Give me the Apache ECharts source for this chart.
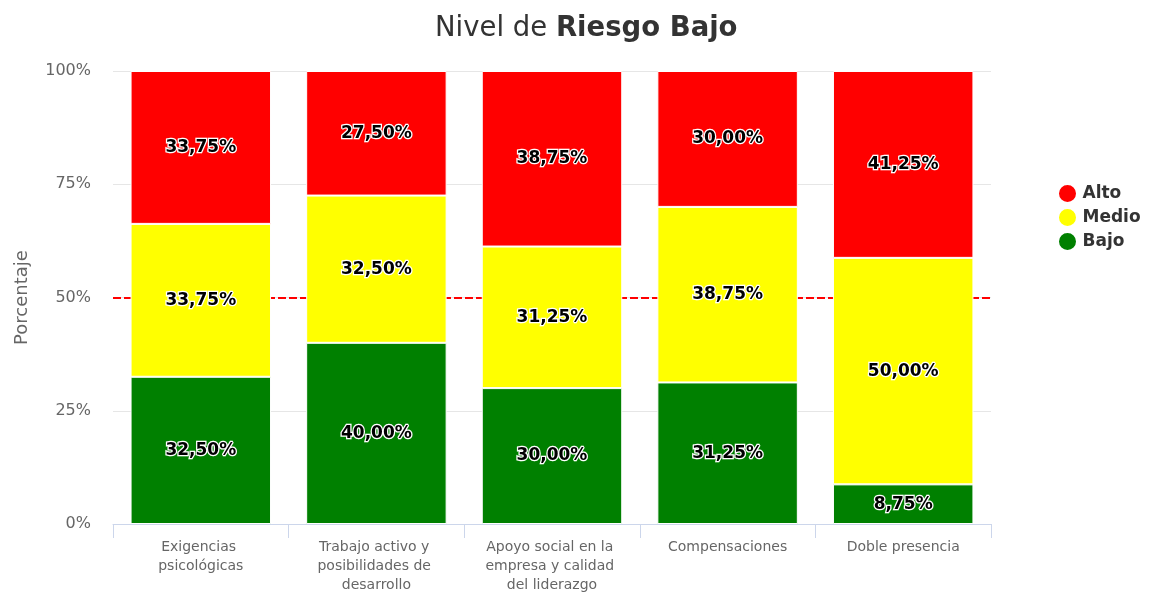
<!DOCTYPE html>
<html lang="es">
<head>
    <meta charset="UTF-8">
    <title>Nivel de Riesgo Bajo</title>
    <script src="https://cdn.jsdelivr.net/npm/echarts@6/dist/echarts.min.js"></script>
    <style>
        html, body { margin: 0; padding: 0; background: #fff; }
        #chart { width: 1151px; height: 592px; }
    </style>
</head>
<body>
    <div id="chart"></div>
    <script>
        // datos
        const categorias = ['Exigencias psicológicas', 'Trabajo activo y posibilidades de desarrollo',
            'Apoyo social en la empresa y calidad del liderazgo', 'Compensaciones', 'Doble presencia'];
        const bajo = [32.5, 40, 30, 31.25, 8.75];
        const medio = [33.75, 32.5, 31.25, 38.75, 50];
        const alto = [33.75, 27.5, 38.75, 30, 41.25];
        const umbral = 50;

        const fuente = 'DejaVu Sans, sans-serif';

        function etiqueta(p) {
            return p.value.toFixed(2).replace('.', ',') + '%';
        }

        function serieBarra(nombre, datos, color) {
            return {
                name: nombre,
                type: 'bar',
                stack: 'total',
                data: datos,
                barCategoryGap: '20%',
                z: 3,
                itemStyle: { color: color, borderColor: '#fff', borderWidth: 1 },
                label: {
                    show: true,
                    formatter: etiqueta,
                    fontFamily: fuente,
                    fontSize: 17,
                    fontWeight: 'bold',
                    color: '#000',
                    textBorderColor: '#fff',
                    textBorderWidth: 2.5,
                    padding: [4, 0, 0, 0]
                }
            };
        }

        const chart = echarts.init(document.getElementById('chart'));
        chart.setOption({
            animation: false,
            textStyle: { fontFamily: fuente },
            title: {
                text: '{n|Nivel de }{b|Riesgo Bajo}',
                left: 430,
                top: 10,
                textStyle: {
                    fontWeight: 'normal',
                    rich: {
                        n: { fontFamily: fuente, fontSize: 27.5, fontWeight: 'normal', color: '#333' },
                        b: { fontFamily: fuente, fontSize: 27.5, fontWeight: 'bold', color: '#333' }
                    }
                }
            },
            legend: {
                orient: 'vertical',
                left: 1052,
                top: 178,
                icon: 'circle',
                itemWidth: 20,
                itemHeight: 19,
                itemGap: 3,
                data: ['Alto', 'Medio', 'Bajo'],
                textStyle: { fontFamily: fuente, fontSize: 17, fontWeight: 'bold', color: '#333' }
            },
            grid: { left: 113, right: 160, top: 71, bottom: 68, outerBoundsMode: 'none' },
            xAxis: {
                type: 'category',
                data: categorias,
                axisLine: { lineStyle: { color: '#ccd6eb', width: 1 } },
                axisTick: { show: true, length: 14, lineStyle: { color: '#ccd6eb' } },
                axisLabel: {
                    interval: 0,
                    color: '#666',
                    fontFamily: fuente,
                    fontSize: 14,
                    lineHeight: 19,
                    width: 145,
                    overflow: 'break',
                    margin: 14
                }
            },
            yAxis: {
                type: 'value',
                min: 0,
                max: 100,
                interval: 25,
                name: 'Porcentaje',
                nameLocation: 'middle',
                nameGap: 82,
                nameTextStyle: { color: '#666', fontFamily: fuente, fontSize: 18 },
                axisLabel: {
                    formatter: '{value}%', color: '#666', fontFamily: fuente, fontSize: 16,
                    margin: 22, padding: [6, 0, 0, 0]
                },
                splitLine: { lineStyle: { color: '#e6e6e6' } }
            },
            series: [
                serieBarra('Bajo', bajo, '#008000'),
                serieBarra('Medio', medio, '#ffff00'),
                serieBarra('Alto', alto, '#ff0000'),
                {
                    name: 'umbral',
                    type: 'line',
                    data: [],
                    z: 1,
                    silent: true,
                    markLine: {
                        z: 1,
                        silent: true,
                        symbol: 'none',
                        label: { show: false },
                        lineStyle: { color: '#ff0000', type: [8, 3], width: 2 },
                        data: [{ yAxis: umbral }]
                    }
                }
            ]
        });
    </script>
</body>
</html>
